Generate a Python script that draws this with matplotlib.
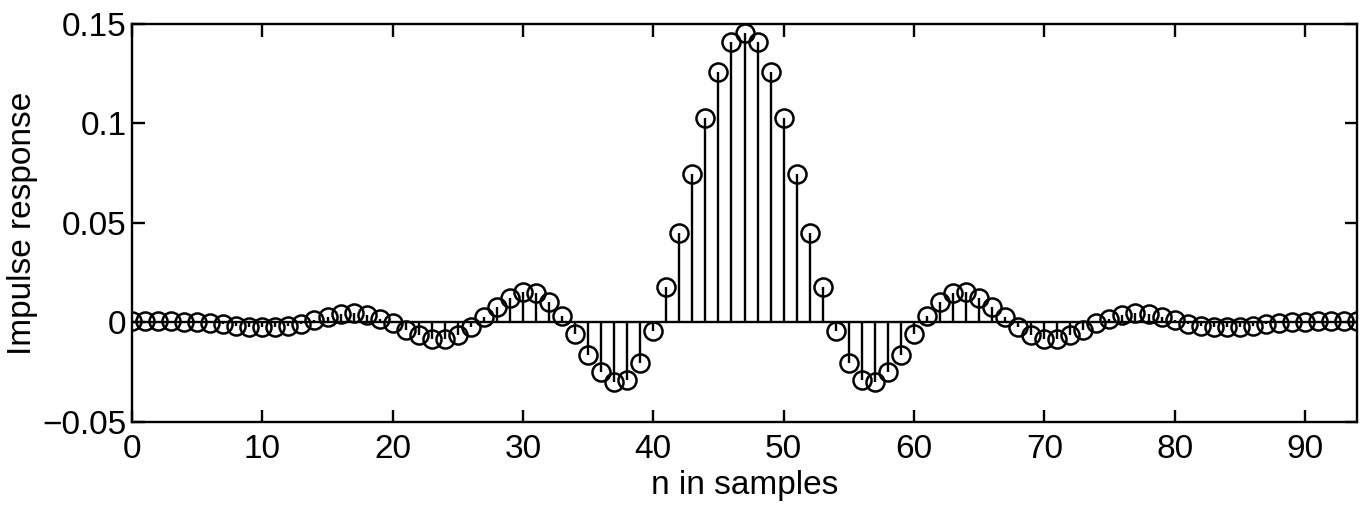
import matplotlib
matplotlib.use("Agg")
import matplotlib.pyplot as plt
import numpy as np

plt.rcParams['font.family'] = ['Liberation Sans', 'DejaVu Sans']

# Sample index and impulse response of the FIR filter (length 95, centred on n = 47)
n_samples = list(range(95))
impulse_response = [
    0.0005, 0.0005, 0.0006, 0.0006, 0.0004, 0.0001, -0.0004, -0.0010, -0.0016, -0.0021,
    -0.0024, -0.0023, -0.0017, -0.0006, 0.0011, 0.0029, 0.0043, 0.0047, 0.0040, 0.0020,
    -0.0005, -0.0037, -0.0065, -0.0083, -0.0083, -0.0064, -0.0023, 0.0027, 0.0080, 0.0122,
    0.0152, 0.0147, 0.0105, 0.0035, -0.0056, -0.0162, -0.0249, -0.0299, -0.0288, -0.0205,
    -0.0045, 0.0180, 0.0452, 0.0745, 0.1030, 0.1260, 0.1410, 0.1455,
    0.1410, 0.1260, 0.1030, 0.0745, 0.0452, 0.0180, -0.0045,
    -0.0205, -0.0288, -0.0299, -0.0249, -0.0162, -0.0056, 0.0035, 0.0105, 0.0147, 0.0152,
    0.0122, 0.0080, 0.0027, -0.0023, -0.0064, -0.0083, -0.0083, -0.0065, -0.0037, -0.0005,
    0.0020, 0.0040, 0.0047, 0.0043, 0.0029, 0.0011, -0.0006, -0.0017, -0.0023, -0.0024,
    -0.0021, -0.0016, -0.0010, -0.0004, 0.0001, 0.0004, 0.0006, 0.0006, 0.0005, 0.0005,
]

x_ticks = [0, 10, 20, 30, 40, 50, 60, 70, 80, 90]
y_ticks = [-0.05, 0, 0.05, 0.1, 0.15]
y_tick_labels = ['\u22120.05', '0', '0.05', '0.1', '0.15']

fig = plt.figure(figsize=(13.71, 5.08), dpi=100)
ax = fig.add_axes([0.0963, 0.1693, 0.8935, 0.7835])

markerline, stemlines, baseline = ax.stem(n_samples, impulse_response,
                                          linefmt='k-', markerfmt='ko', basefmt='k-')
markerline.set_markerfacecolor('none')
markerline.set_markeredgecolor('black')
markerline.set_markersize(13)
markerline.set_markeredgewidth(1.8)
markerline.set_zorder(3)
stemlines.set_linewidth(1.7)
baseline.set_linewidth(1.7)

ax.set_xlim(0, 94)
ax.set_ylim(-0.05, 0.15)
ax.set_xticks(x_ticks)
ax.set_yticks(y_ticks)
ax.set_yticklabels(y_tick_labels)

for side in ax.spines.values():
    side.set_linewidth(1.7)
    side.set_color('black')

ax.tick_params(direction='in', length=9, width=1.7, top=True, right=True,
               labelsize=24, colors='black')
ax.tick_params(axis='x', pad=9)
ax.tick_params(axis='y', pad=4)

ax.set_xlabel('n in samples', fontsize=24)
ax.set_ylabel('Impulse response', fontsize=24)
ax.xaxis.set_label_coords(0.5, -0.12)
ax.yaxis.set_label_coords(-0.077, 0.5)

fig.savefig('out.png', dpi=100)
